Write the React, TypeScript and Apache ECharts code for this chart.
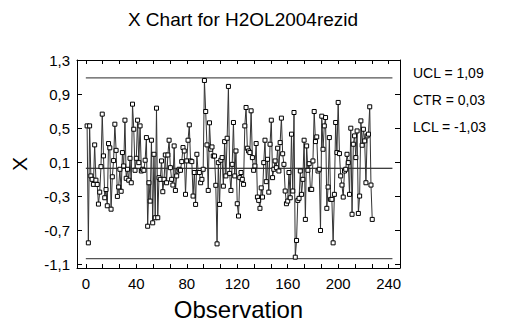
import React, { useEffect, useRef } from "react";
import * as echarts from "echarts";

const title = "X Chart for H2OL2004rezid";
const xName = "Observation";
const yName = "X";
const xTickLabels = [0, 40, 80, 120, 160, 200, 240];
const yTickLabels = [-1.1, -0.7, -0.3, 0.1, 0.5, 0.9, 1.3];
const ucl = 1.09;
const ctr = 0.03;
const lcl = -1.03;
const limitStart = 0;
const limitEnd = 243;
const limitLabels = ["UCL = 1,09", "CTR = 0,03", "LCL = -1,03"];

const values = [
  0.527, -0.845, 0.527, -0.06, -0.1, -0.159, 0.304, -0.11, -0.16, -0.39,
  -0.25, 0.049, 0.665, 0.175, -0.316, -0.22, -0.41, 0.32, 0.27, -0.45,
  -0.07, 0.12, 0.547, 0.24, -0.3, -0.19, 0.018, -0.24, 0.214,
  0.057, 0.594, -0.088, 0.018, -0.11, 0.147, -0.14, 0.782, 0.488, 0.006,
  0.147, 0.594, 0.096, 0.527, -0.002, 0.018, 0.006, 0.124, 0.39, -0.65,
  -0.14, -0.355, 0.359, -0.61, 0.194, -0.55, 0.735, -0.55, -0.08, -0.1,
  0.116, -0.245,
  -0.1, 0.186, -0.14, 0.186, 0.359, 0.037, -0.1, -0.167, 0.292, -0.23,
  -0.06, -0.002, 0.018, 0.006, 0.108, 0.273, 0.233, -0.276, 0.116, 0.359,
  0.539, 0.116, 0.108, -0.296, -0.02, -0.394, 0.194, -0.02, -0.02, -0.14,
  -0.1, 0.018,
  1.06, 0.696, 0.304, -0.23, 0.563, 0.253, 0.28, 0.174, 0.174, -0.17,
  -0.857, 0.096, -0.394, 0.124, 0.155, -0.18, 0.343, -0.06, 0.382, 0.99,
  -0.03, -0.23, 0.076, 0.567, -0.06, 0.233, -0.386, -0.53, -0.08, -0.02,
  -0.1,
  -0.159, 0.527, 0.743, 0.265, 0.233, 0.214, 0.704, 0.155, 0.006, 0.057,
  0.32, -0.308, -0.347, -0.44, -0.2, -0.308, 0.096, 0.359, -0.127, 0.135, -0.25,
  0.312, 0.594, -0.08, 0.018, 0.116, 0.037, 0.265, -0.002, 0.331, 0.618,
  0.2,
  0.076, -0.237, -0.386, -0.355, -0.02, -0.316, 0.43, -0.237, 0.684, -1.013,
  -0.817, -0.347, -0.323, -0.002, -0.276, -0.1, 0.359, -0.57, 0.292, 0.006, 0.084,
  -0.218, -0.218, 0.116, 0.696, 0.343, 0.398, -0.002, 0.018, -0.7, 0.641,
  0.253, 0.527, 0.625, -0.44, -0.19, 0.39, -0.335, -0.335, -0.845, -0.276,
  0.567, 0.214, 0.802, 0.202, -0.06, -0.167, -0.308, -0.002, 0.018, 0.194,
  0.096, -0.276, 0.5, -0.51, 0.312, 0.41, 0.155, 0.468, -0.5, -0.296,
  0.586, 0.3,
  0.488, 0.351, -0.14, 0.41, 0.43, 0.751, -0.167, -0.57,
];

const FONT = "'Liberation Sans', Arial, sans-serif";

export default function App() {
  const ref = useRef<HTMLDivElement>(null);
  useEffect(() => {
    document.body.style.margin = "0";
    if (!ref.current) return;
    const chart = echarts.init(ref.current, null, { renderer: "svg" });
    const xTicks: number[] = [];
    for (let i = 0; i <= 18; i++) xTicks.push((i * 40) / 3);
    const fmtY = (v: number) => v.toFixed(1).replace(".", ",");
    const grid = { left: 77, top: 60, width: 323, height: 208 };
    const pts = values.map((v, i) => [i + 1, v]);
    const limitLine = (v: number, color: string, w: number) => ({
      type: "line",
      data: [
        [limitStart, v],
        [limitEnd, v],
      ],
      symbol: "none",
      lineStyle: { color, width: w },
      z: 1,
      silent: true,
    });
    const lineAxisCommon = {
      axisLine: { show: true, onZero: false, lineStyle: { color: "#000", width: 1 } },
      splitLine: { show: false },
    };
    chart.setOption({
      animation: false,
      backgroundColor: "#fff",
      title: {
        text: title,
        left: 238,
        top: 5,
        textAlign: "center",
        textStyle: { fontFamily: FONT, fontSize: 19, fontWeight: "normal", color: "#000" },
      },
      grid,
      xAxis: [
        {
          type: "value",
          min: -7,
          max: 249,
          ...lineAxisCommon,
          axisTick: { show: true, inside: true, length: 4, customValues: xTicks, lineStyle: { color: "#000" } },
          axisLabel: {
            customValues: xTickLabels,
            fontFamily: FONT,
            fontSize: 15,
            color: "#000",
            margin: 8,
          },
          name: xName,
          nameLocation: "middle",
          nameGap: 29,
          nameTextStyle: { fontFamily: FONT, fontSize: 24, color: "#000" },
        },
        {
          type: "value",
          min: -7,
          max: 249,
          position: "top",
          ...lineAxisCommon,
          axisTick: { show: true, inside: true, length: 4, customValues: xTicks, lineStyle: { color: "#000" } },
          axisLabel: { show: false },
        },
      ],
      yAxis: [
        {
          type: "value",
          min: -1.14,
          max: 1.3,
          ...lineAxisCommon,
          axisTick: { show: true, inside: true, length: 5, customValues: yTickLabels, lineStyle: { color: "#000" } },
          axisLabel: {
            customValues: yTickLabels,
            formatter: fmtY,
            fontFamily: FONT,
            fontSize: 15,
            color: "#000",
            margin: 7,
          },
          name: yName,
          nameLocation: "middle",
          nameGap: 47,
          nameRotate: 90,
          nameTextStyle: { fontFamily: FONT, fontSize: 21, color: "#000" },
        },
        {
          type: "value",
          min: -1.14,
          max: 1.3,
          position: "right",
          ...lineAxisCommon,
          axisTick: { show: true, inside: true, length: 5, customValues: yTickLabels, lineStyle: { color: "#000" } },
          axisLabel: { show: false },
        },
      ],
      graphic: limitLabels.map((t, i) => ({
        type: "text",
        left: 413,
        top: 66 + i * 27,
        style: { text: t, fontFamily: FONT, fontSize: 14, fill: "#000" },
      })),
      series: [
        limitLine(ucl, "#555", 1.2),
        limitLine(ctr, "#000", 1),
        limitLine(lcl, "#555", 1.2),
        {
          type: "line",
          data: pts,
          symbol: "rect",
          symbolSize: 4,
          itemStyle: { color: "#fff", borderColor: "#000", borderWidth: 1 },
          lineStyle: { color: "#333", width: 1 },
          z: 3,
        },
      ],
    });
    return () => chart.dispose();
  }, []);
  return <div ref={ref} style={{ width: 518, height: 330 }} />;
}
